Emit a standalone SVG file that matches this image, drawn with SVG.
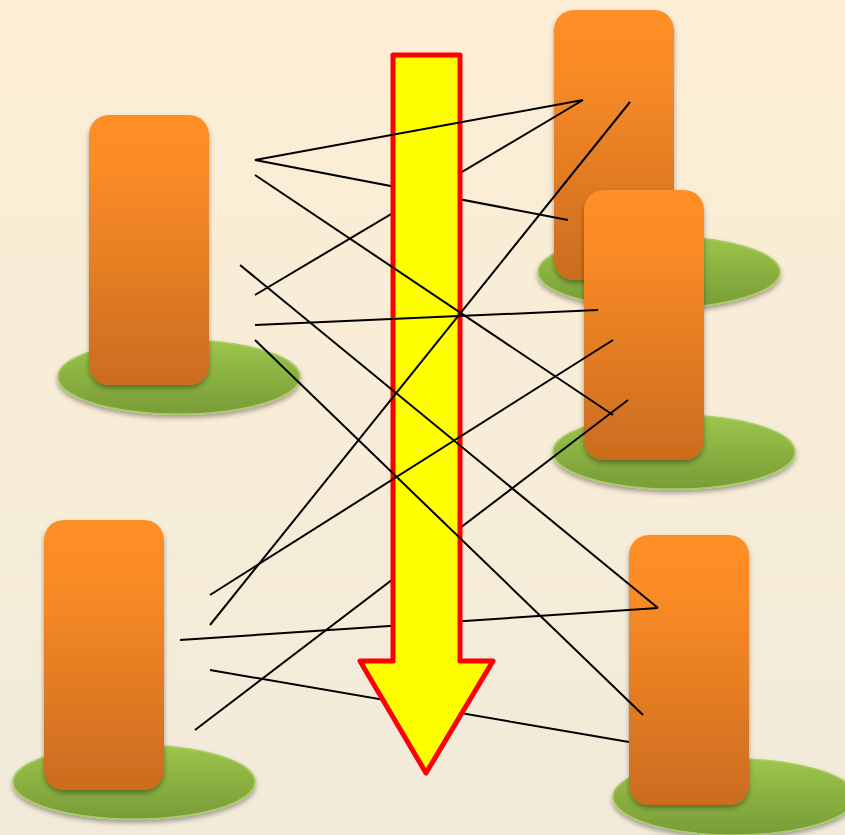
<svg xmlns="http://www.w3.org/2000/svg" width="845" height="835" viewBox="0 0 845 835">
<defs>
<linearGradient id="bg" x1="0" y1="0" x2="0" y2="1"><stop offset="0" stop-color="#FCEED5"/><stop offset="1" stop-color="#F2EBDA"/></linearGradient>
<linearGradient id="org" x1="0" y1="0" x2="0" y2="1"><stop offset="0" stop-color="#FE8E27"/><stop offset="0.2" stop-color="#FB8C27"/><stop offset="1" stop-color="#CB6C1F"/></linearGradient>
<linearGradient id="grn" x1="0" y1="0" x2="0" y2="1"><stop offset="0" stop-color="#9DC54A"/><stop offset="1" stop-color="#789C38"/></linearGradient>
<filter id="sh" x="-20%" y="-20%" width="140%" height="150%"><feDropShadow dx="0" dy="3" stdDeviation="2.5" flood-color="#000" flood-opacity="0.35"/></filter>
<style>
.blk{fill:url(#org);filter:url(#sh)}
.pad{fill:url(#grn);stroke:#A9CC63;stroke-width:1.5;filter:url(#sh)}
.ln{stroke:#000;stroke-width:2;fill:none}
.arr{fill:#FFFF00;stroke:#FF0000;stroke-width:5;stroke-linejoin:round}
</style>
</defs>
<rect width="845" height="835" fill="url(#bg)"/>
<g id="node-left-top"><ellipse class="pad" cx="179" cy="377" rx="121" ry="37"/><rect class="blk" x="89" y="115" width="120" height="270" rx="20"/></g>
<g id="node-left-bottom"><ellipse class="pad" cx="134" cy="782" rx="121" ry="37"/><rect class="blk" x="44" y="520" width="120" height="270" rx="20"/></g>
<g id="node-right-top"><ellipse class="pad" cx="659" cy="272" rx="121" ry="36"/><rect class="blk" x="554" y="10" width="120" height="270" rx="20"/></g>
<g id="node-right-middle"><ellipse class="pad" cx="674" cy="452" rx="121" ry="37"/><rect class="blk" x="584" y="190" width="120" height="270" rx="20"/></g>
<g id="node-right-bottom"><ellipse class="pad" cx="734" cy="797" rx="121" ry="38"/><rect class="blk" x="629" y="535" width="120" height="270" rx="20"/></g>
<g id="connectors-behind">
<line class="ln" x1="255" y1="160" x2="568" y2="220"/>
<line class="ln" x1="583" y1="100" x2="255" y2="295"/>
<line class="ln" x1="628" y1="400" x2="195" y2="730"/>
<line class="ln" x1="180" y1="640" x2="658" y2="608"/>
<line class="ln" x1="210" y1="670" x2="629" y2="742"/>
</g>
<g id="arrow"><polygon class="arr" points="393,55 460,55 460,661 493,661 426,773 360,661 393,661"/></g>
<g id="connectors-front">
<line class="ln" x1="255" y1="160" x2="583" y2="100"/>
<line class="ln" x1="255" y1="175" x2="613" y2="415"/>
<line class="ln" x1="630" y1="102" x2="210" y2="625"/>
<line class="ln" x1="255" y1="325" x2="598" y2="310"/>
<line class="ln" x1="240" y1="265" x2="658" y2="608"/>
<line class="ln" x1="255" y1="340" x2="643" y2="715"/>
<line class="ln" x1="613" y1="340" x2="210" y2="595"/>
</g>
</svg>
